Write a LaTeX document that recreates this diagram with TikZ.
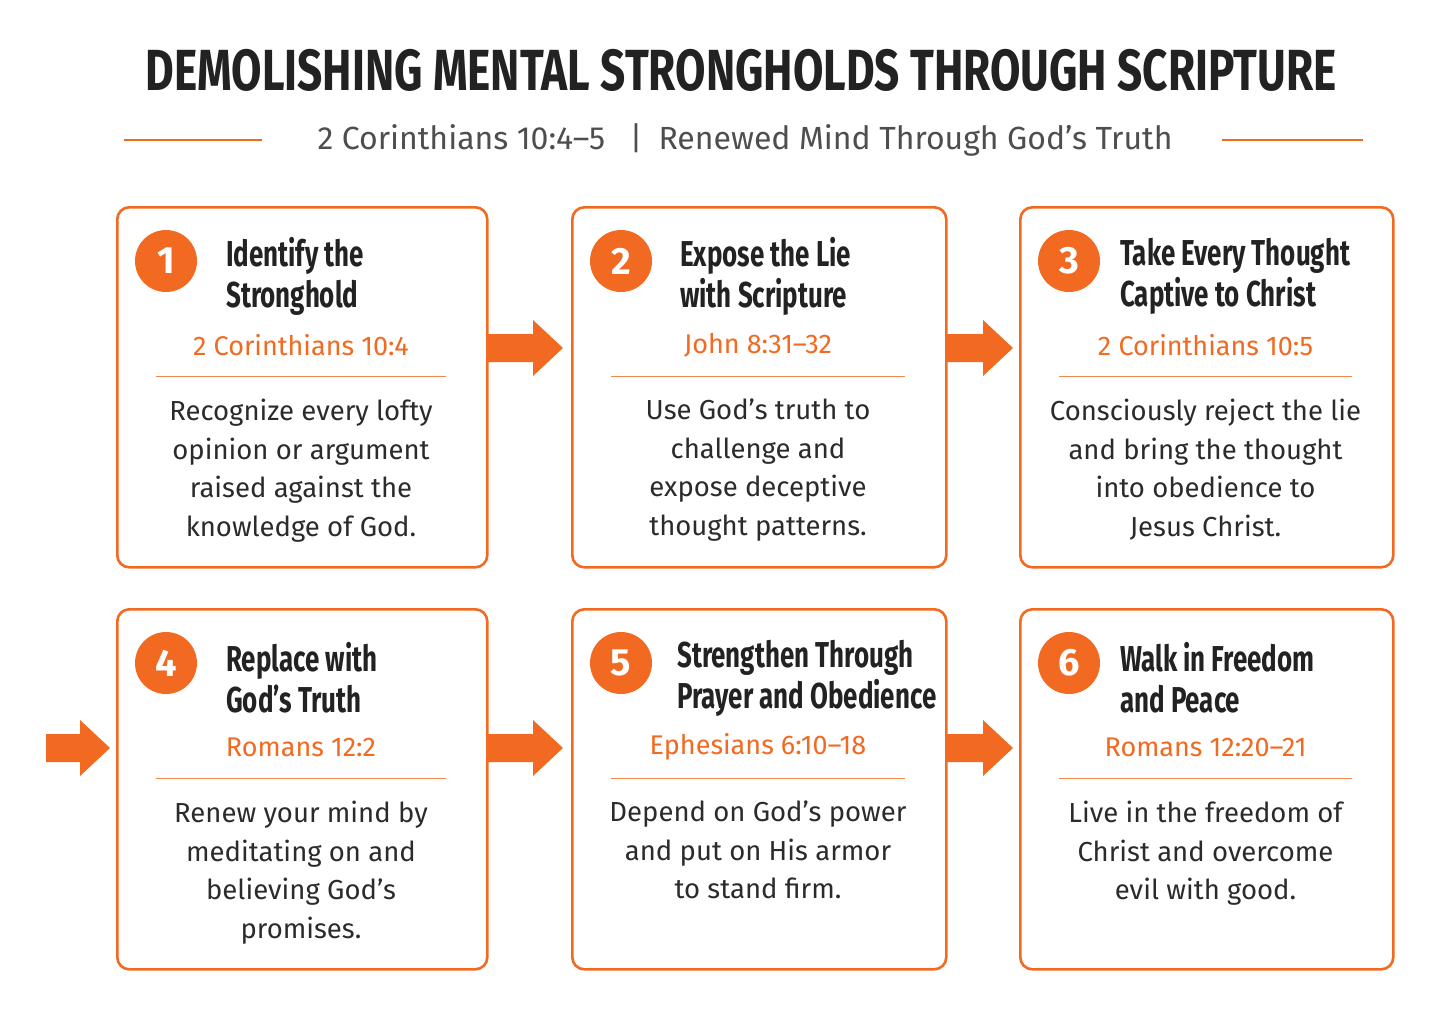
\documentclass[tikz,border=0pt]{standalone}
\usepackage{fontspec}
\setmainfont{Fira Sans}
\newfontfamily\cond[FakeStretch=0.72]{Fira Sans}
\newfontfamily\condt[FakeStretch=0.76]{Fira Sans}
\definecolor{org}{HTML}{F26A21}
\definecolor{ink}{HTML}{222222}
\definecolor{body}{HTML}{2B2B2B}
\begin{document}
\begin{tikzpicture}[x=1pt,y=-1pt,
 box/.style={draw=org,line width=2.6pt,rounded corners=12pt,minimum width=#1,minimum height=360pt,anchor=north west,inner sep=0pt},
 num/.style={circle,fill=org,minimum size=62pt,inner sep=0pt,text=white,font=\fontsize{38}{38}\selectfont\bfseries},
 ttl/.style={anchor=west,align=left,text=ink,font=\cond\fontsize{36}{41}\selectfont\bfseries,inner sep=0pt},
 ref/.style={text=org,font=\fontsize{27}{30}\selectfont,inner sep=0pt},
 txt/.style={text=body,align=center,anchor=north,font=\fontsize{27.5}{38.5}\selectfont,inner sep=0pt},
 sep/.style={draw=org!80,line width=1pt}]
\useasboundingbox (0,0) rectangle (1441,1018);
\fill[white] (0,0) rectangle (1441,1018);
\node[text=ink,font=\condt\fontsize{58}{58}\selectfont\bfseries,inner sep=0pt] (title) at (741,70) {DEMOLISHING MENTAL STRONGHOLDS THROUGH SCRIPTURE};
\node[text=ink!80,font=\fontsize{32}{32}\selectfont,inner sep=0pt] (sub) at (745,140) {2 Corinthians 10:4–5 \enspace|\enspace Renewed Mind Through God’s Truth};
\coordinate (l1) at (124,140); \coordinate (l2) at (262,140);
\coordinate (r1) at (1222,140); \coordinate (r2) at (1363,140);
\draw[org,line width=1.6pt] (l1)--(l2); \draw[org,line width=1.6pt] (r1)--(r2);
\def\mkbox#1#2#3#4#5#6#7#8{%
 \node[box=#4] (b#1) at (#2,#3) {};
 \node[num] (n#1) at (#2+50,#3+55) {#1};
 \node[ttl] (t#1) at (#2+#7,#3+70) {#5};
 \node[ref] (r#1) at (#2+#4/2,#3+139) {#6};
 \coordinate (s#1a) at (#2+40,#3+170); \coordinate (s#1b) at (#2+#4-40,#3+170);
 \draw[sep] (s#1a)--(s#1b);
 \node[txt] (x#1) at (#2+#4/2,#3+193) {#8};}
\mkbox{1}{116}{206}{370}{Identify the\\Stronghold}{2 Corinthians 10:4}{110}{Recognize every lofty\\opinion or argument\\raised against the\\knowledge of God.}
\mkbox{2}{571}{206}{374}{Expose the Lie\\with Scripture}{John 8:31–32}{109}{Use God’s truth to\\challenge and\\expose deceptive\\thought patterns.}
\mkbox{3}{1019}{206}{373}{Take Every Thought\\Captive to Christ}{2 Corinthians 10:5}{101}{Consciously reject the lie\\and bring the thought\\into obedience to\\Jesus Christ.}
\mkbox{4}{116}{608}{370}{Replace with\\God’s Truth}{Romans 12:2}{110}{Renew your mind by\\meditating on and\\believing God’s\\promises.}
\mkbox{5}{571}{608}{374}{Strengthen Through\\Prayer and Obedience}{Ephesians 6:10–18}{106}{Depend on God’s power\\and put on His armor\\to stand firm.}
\mkbox{6}{1019}{608}{373}{Walk in Freedom\\and Peace}{Romans 12:20–21}{101}{Live in the freedom of\\Christ and overcome\\evil with good.}
\def\barr#1#2#3{\fill[org] (#1,#3-14)--(#2-30,#3-14)--(#2-30,#3-28)--(#2,#3)--(#2-30,#3+28)--(#2-30,#3+14)--(#1,#3+14)--cycle;}
\barr{486}{563}{348}
\barr{945}{1013}{348}
\barr{46}{110}{748}
\barr{486}{563}{748}
\barr{945}{1013}{748}
\end{tikzpicture}
\end{document}
